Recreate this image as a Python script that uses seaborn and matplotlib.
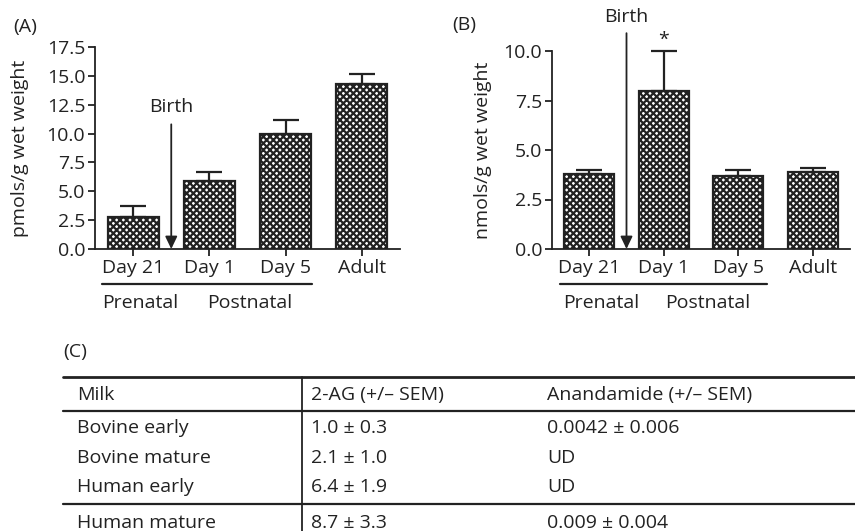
import numpy as np
import pandas as pd
import seaborn as sns
import matplotlib.pyplot as plt
from matplotlib.lines import Line2D

# bar data
ages = ['Day 21', 'Day 1', 'Day 5', 'Adult']
pmol_mean = [2.8, 5.9, 10.0, 14.3]   # panel A
pmol_sem = [0.9, 0.8, 1.2, 0.9]
nmol_mean = [3.8, 8.0, 3.7, 3.9]     # panel B
nmol_sem = [0.2, 2.0, 0.3, 0.2]

# table (C)
table_header = ['Milk', '2-AG (+/\u2013 SEM)', 'Anandamide (+/\u2013 SEM)']
milk = ['Bovine early', 'Bovine mature', 'Human early', 'Human mature']
two_ag = ['1.0 \u00b1 0.3', '2.1 \u00b1 1.0', '6.4 \u00b1 1.9', '8.7 \u00b1 3.3']
anandamide = ['0.0042 \u00b1 0.006', 'UD', 'UD', '0.009 \u00b1 0.004']

sns.set_style('ticks')
plt.rcParams['font.family'] = ['Open Sans', 'DejaVu Sans']
plt.rcParams['hatch.linewidth'] = 1.6
plt.rcParams['hatch.color'] = '#222222'

INK = '#222222'
FS = 14
W, H = 855, 531
fig = plt.figure(figsize=(W / 100, H / 100), dpi=100)


def px(x, y):
    # pixel position -> figure fraction
    return x / W, 1 - y / H


def draw_panel(ax, means, sems, ymax, yticks, ylabel, arrow_top, birth_y):
    df = pd.DataFrame({'age': ages, 'value': means})
    sns.barplot(data=df, x='age', y='value', ax=ax, color='white', saturation=1,
                edgecolor=INK, linewidth=1.6, width=0.67, hatch='xxxxx',
                errorbar=None)
    ax.errorbar(range(len(ages)), means, yerr=[np.zeros(len(sems)), sems],
                fmt='none', ecolor=INK, elinewidth=1.6, capsize=9.5, capthick=1.6,
                clip_on=False, zorder=3)
    ax.set_xlim(-0.5, 3.5)
    ax.set_ylim(0, ymax)
    ax.set_yticks(yticks)
    ax.set_yticklabels(['%.1f' % t for t in yticks])
    sns.despine(ax=ax)
    ax.spines['left'].set_bounds(0, ymax)
    for s in ['left', 'bottom']:
        ax.spines[s].set_linewidth(1.3)
        ax.spines[s].set_color(INK)
    ax.tick_params(length=5, width=1.3, color=INK, labelsize=FS, labelcolor=INK, pad=2)
    ax.set_xlabel('')
    ax.set_ylabel(ylabel, fontsize=FS, color=INK)
    ax.yaxis.set_label_coords(-0.215, 0.5)
    # birth arrow
    ax.annotate('', xy=(0.5, 0), xytext=(0.5, arrow_top), annotation_clip=False,
                arrowprops=dict(arrowstyle='-|>,head_length=0.75,head_width=0.36',
                                color=INK, lw=1.3, shrinkA=0, shrinkB=0))
    ax.text(0.5, birth_y, 'Birth', ha='center', va='center', fontsize=FS,
            color=INK, clip_on=False)


axA = fig.add_axes([95 / W, 1 - 249 / H, 305 / W, 202 / H])
draw_panel(axA, pmol_mean, pmol_sem, 17.5, np.arange(0, 17.6, 2.5),
           'pmols/g wet weight', 10.8, 12.3)

axB = fig.add_axes([552 / W, 1 - 249 / H, 298 / W, 198 / H])
draw_panel(axB, nmol_mean, nmol_sem, 10, np.arange(0, 10.1, 2.5),
           'nmols/g wet weight', 10.9, 11.7)
axB.yaxis.set_label_coords(-0.2, 0.5)
axB.text(1, 10.55, '*', ha='center', va='center', fontsize=FS, color=INK, clip_on=False)

# panel letters
fig.text(*px(13, 27), '(A)', fontsize=FS, va='center', color=INK)
fig.text(*px(452, 25), '(B)', fontsize=FS, va='center', color=INK)
fig.text(*px(63, 352), '(C)', fontsize=FS, va='center', color=INK)

# prenatal / postnatal brackets
for x0, x1, pre_x, post_x in [(102, 312, 102, 207), (560, 767, 563, 665)]:
    fig.add_artist(Line2D([x0 / W, x1 / W], [1 - 284 / H] * 2, color=INK, lw=1.6))
    fig.text(*px(pre_x, 303), 'Prenatal', fontsize=FS, va='center', color=INK)
    fig.text(*px(post_x, 303), 'Postnatal', fontsize=FS, va='center', color=INK)

# table (C)
col_x = [77, 311, 547]
row_y = [428, 458, 487, 523]
for x, t in zip(col_x, table_header):
    fig.text(*px(x, 395), t, fontsize=FS, va='center', color=INK)
for y, a, b, c in zip(row_y, milk, two_ag, anandamide):
    fig.text(*px(col_x[0], y), a, fontsize=FS, va='center', color=INK)
    fig.text(*px(col_x[1], y), b, fontsize=FS, va='center', color=INK)
    fig.text(*px(col_x[2], y), c, fontsize=FS, va='center', color=INK)
for y, lw in [(377, 2.0), (411, 1.6), (504, 1.6)]:
    fig.add_artist(Line2D([63 / W, 1.0], [1 - y / H] * 2, color=INK, lw=lw))
fig.add_artist(Line2D([302 / W] * 2, [1 - 377 / H, 0], color=INK, lw=1.3))

fig.savefig('out.png', dpi=100)
